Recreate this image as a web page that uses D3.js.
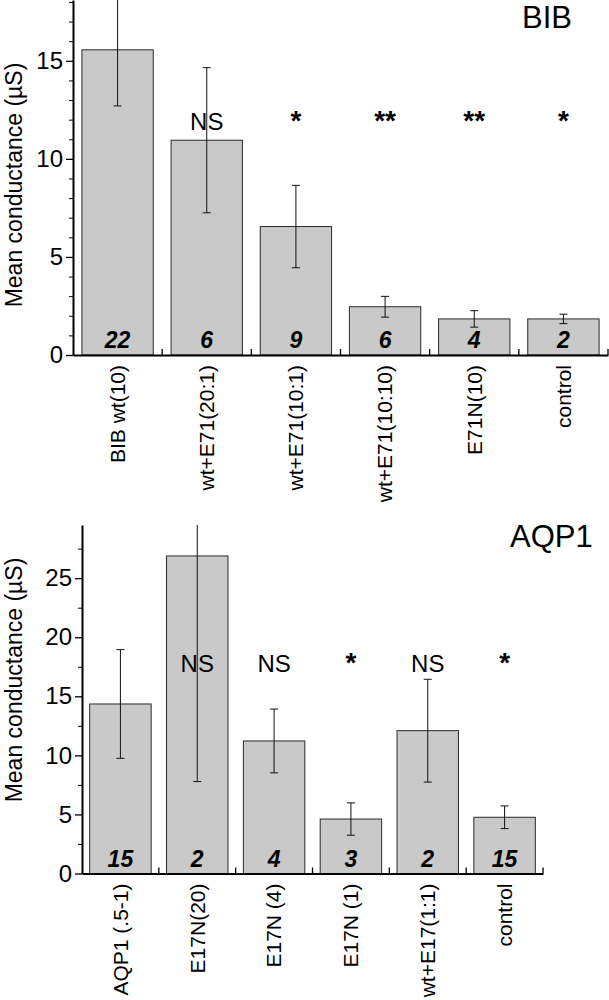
<!DOCTYPE html>
<html>
<head>
<meta charset="utf-8">
<script src="https://cdn.jsdelivr.net/npm/d3@7"></script>
<style>
  body { margin: 0; background: #fff; }
  svg { display: block; font-family: "Liberation Sans", Arial, sans-serif; }
</style>
</head>
<body>
<svg width="609" height="1000"></svg>
<script>
// BIB panel
const bibCategories = ["BIB wt(10)", "wt+E71(20:1)", "wt+E71(10:1)", "wt+E71(10:10)", "E71N(10)", "control"]
const bibMeans = [15.56, 10.95, 6.55, 2.46, 1.84, 1.84]
const bibErrors = [2.86, 3.7, 2.1, 0.53, 0.42, 0.24]
const bibN = ["22", "6", "9", "6", "4", "2"]
const bibSig = ["", "NS", "*", "**", "**", "*"]
const bibTicks = [0, 5, 10, 15]

// AQP1 panel
const aqpCategories = ["AQP1  (.5-1)", "E17N(20)", "E17N (4)", "E17N (1)", "wt+E17(1:1)", "control"]
const aqpMeans = [14.35, 26.88, 11.22, 4.61, 12.09, 4.76]
const aqpErrors = [4.6, 19.1, 2.7, 1.37, 4.35, 0.96]
const aqpN = ["15", "2", "4", "3", "2", "15"]
const aqpSig = ["", "NS", "NS", "*", "NS", "*"]
const aqpTicks = [0, 5, 10, 15, 20, 25]

const svg = d3.select("svg")

const panels = [
  {id: "bib", title: "BIB", cats: bibCategories, means: bibMeans, errs: bibErrors, n: bibN, sig: bibSig,
   ticks: bibTicks, minor: d3.range(1, 19).filter(v => v % 5 !== 0), yMax: 18.1,
   left: 73, right: 608, top: 0, bottom: 355, titleX: 522, titleY: 28, sigY: 130, labelY: 185},
  {id: "aqp", title: "AQP1", cats: aqpCategories, means: aqpMeans, errs: aqpErrors, n: aqpN, sig: aqpSig,
   ticks: aqpTicks, minor: d3.range(2.5, 29, 5), yMax: 29.5,
   left: 82, right: 543, top: 525, bottom: 873.5, titleX: 510, titleY: 547, sigY: 672, labelY: 680}
]

panels.forEach(p => {
  const data = p.cats.map((c, i) => ({cat: c, mean: p.means[i], err: p.errs[i], n: p.n[i], sig: p.sig[i]}))

  const x = d3.scaleBand()
    .domain(p.cats)
    .range([p.left, p.right])
    .paddingInner(0.2)
    .paddingOuter(0.1)

  const y = d3.scaleLinear()
    .domain([0, p.yMax])
    .range([p.bottom, p.top])

  const g = svg.append("g")

  svg.append("clipPath").attr("id", "clip-" + p.id)
    .append("rect")
    .attr("x", p.left).attr("y", p.top)
    .attr("width", p.right - p.left).attr("height", p.bottom - p.top)

  // bars
  g.append("g").selectAll("rect")
    .data(data)
    .join("rect")
    .attr("x", d => x(d.cat))
    .attr("y", d => y(d.mean))
    .attr("width", x.bandwidth())
    .attr("height", d => y(0) - y(d.mean))
    .attr("fill", "#c9c9c9")
    .attr("stroke", "#2a2a2a")
    .attr("stroke-width", 1)

  // error bars
  const eb = g.append("g")
    .attr("clip-path", `url(#clip-${p.id})`)
    .attr("stroke", "#111")
    .attr("stroke-width", 1)
  const cx = d => x(d.cat) + x.bandwidth() / 2
  eb.selectAll(".v").data(data).join("line")
    .attr("x1", cx).attr("x2", cx)
    .attr("y1", d => y(d.mean - d.err)).attr("y2", d => y(d.mean + d.err))
  eb.selectAll(".hi").data(data).join("line")
    .attr("x1", d => cx(d) - 4).attr("x2", d => cx(d) + 4)
    .attr("y1", d => y(d.mean + d.err)).attr("y2", d => y(d.mean + d.err))
  eb.selectAll(".lo").data(data).join("line")
    .attr("x1", d => cx(d) - 4).attr("x2", d => cx(d) + 4)
    .attr("y1", d => y(d.mean - d.err)).attr("y2", d => y(d.mean - d.err))

  // n counts
  g.append("g").selectAll("text")
    .data(data)
    .join("text")
    .attr("x", cx)
    .attr("y", p.bottom - 7)
    .attr("text-anchor", "middle")
    .attr("font-size", "23px")
    .attr("font-weight", "bold")
    .attr("font-style", "italic")
    .text(d => d.n)

  // significance marks
  g.append("g").selectAll("text")
    .data(data)
    .join("text")
    .attr("x", cx)
    .attr("y", p.sigY)
    .attr("text-anchor", "middle")
    .attr("font-size", d => d.sig === "NS" ? "24px" : "28px")
    .attr("font-weight", d => d.sig === "NS" ? "normal" : "bold")
    .text(d => d.sig)

  // y axis
  const yAxis = g.append("g")
    .attr("transform", `translate(${p.left},0)`)
    .call(d3.axisLeft(y).tickValues(p.ticks).tickSize(7).tickSizeOuter(0).tickPadding(3))
  yAxis.select(".domain").attr("stroke-width", 2)
  yAxis.selectAll(".tick line").attr("stroke-width", 1.3)
  yAxis.selectAll(".tick text").attr("font-size", "24px").attr("fill", "#000")

  g.append("g")
    .attr("transform", `translate(${p.left},0)`)
    .call(d3.axisLeft(y).tickValues(p.minor).tickSize(4).tickFormat(""))
    .call(a => a.select(".domain").remove())

  // x axis
  const xAxis = g.append("g")
    .attr("transform", `translate(0,${p.bottom})`)
    .call(d3.axisBottom(x).tickSize(0).tickSizeOuter(0))
  xAxis.select(".domain").attr("stroke-width", 2)
  xAxis.selectAll(".tick text")
    .attr("transform", "rotate(-90)")
    .attr("text-anchor", "end")
    .attr("x", -10)
    .attr("y", 0)
    .attr("dy", "0.35em")
    .attr("font-size", "21px")
    .attr("fill", "#000")

  // boundary ticks pointing up
  g.append("g").selectAll("line")
    .data(data)
    .join("line")
    .attr("x1", d => x(d.cat) + x.bandwidth() + x.step() * 0.1)
    .attr("x2", d => x(d.cat) + x.bandwidth() + x.step() * 0.1)
    .attr("y1", p.bottom)
    .attr("y2", p.bottom - 6)
    .attr("stroke", "#000")
    .attr("stroke-width", 1.3)

  // y label
  g.append("text")
    .attr("transform", `translate(22,${p.labelY}) rotate(-90)`)
    .attr("text-anchor", "middle")
    .attr("font-size", "23px")
    .text("Mean conductance (\u00b5S)")

  // title
  g.append("text")
    .attr("x", p.titleX)
    .attr("y", p.titleY)
    .attr("font-size", "31px")
    .text(p.title)
})
</script>
</body>
</html>
